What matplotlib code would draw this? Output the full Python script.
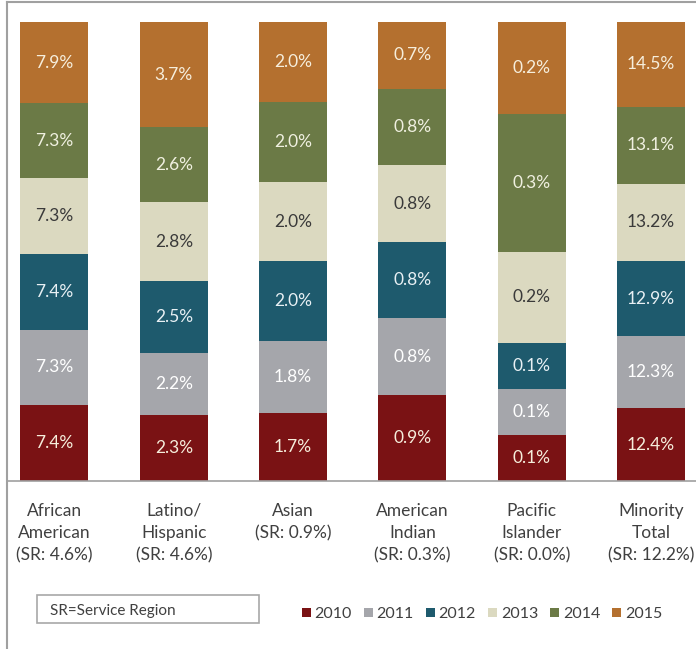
import matplotlib.pyplot as plt
from matplotlib.lines import Line2D
from matplotlib.patches import Rectangle
import numpy as np

plt.rcParams['font.family'] = ['Lato', 'DejaVu Sans']

categories = ["African\nAmerican\n(SR: 4.6%)", "Latino/\nHispanic\n(SR: 4.6%)",
              "Asian\n(SR: 0.9%)", "American\nIndian\n(SR: 0.3%)",
              "Pacific\nIslander\n(SR: 0.0%)", "Minority\nTotal\n(SR: 12.2%)"]
years = ["2010", "2011", "2012", "2013", "2014", "2015"]
v2010 = [7.4, 2.3, 1.7, 0.9, 0.1, 12.4]
v2011 = [7.3, 2.2, 1.8, 0.8, 0.1, 12.3]
v2012 = [7.4, 2.5, 2.0, 0.8, 0.1, 12.9]
v2013 = [7.3, 2.8, 2.0, 0.8, 0.2, 13.2]
v2014 = [7.3, 2.6, 2.0, 0.8, 0.3, 13.1]
v2015 = [7.9, 3.7, 2.0, 0.7, 0.2, 14.5]
series = [v2010, v2011, v2012, v2013, v2014, v2015]

colors = ["#7a1214", "#a5a6ab", "#1e5a6d", "#dbd9c0", "#6b7a46", "#b4702f"]
text_colors = ["#f6eedc", "#ffffff", "#e8f0f4", "#3a3a3a", "#f0f0e0", "#f6eedc"]

data = np.array(series)
shares = data / data.sum(axis=0)

fig = plt.figure(figsize=(6.96, 6.49), dpi=100)
ax = fig.add_axes([7 / 696, 1 - 481 / 649, 1 - 7 / 696, (481 - 22) / 649])

x = np.arange(len(categories))
bottom = np.zeros(len(categories))
for i, yr in enumerate(years):
    bars = ax.bar(x, shares[i], 0.57, bottom=bottom, color=colors[i], label=yr)
    ax.bar_label(bars, labels=[f"{v:.1f}%" for v in series[i]], label_type='center',
                 color=text_colors[i], fontsize=12.5)
    bottom += shares[i]

ax.set_xlim(-0.398, 5.377)
ax.set_ylim(0, 1)
ax.set_yticks([])
ax.set_xticks(x)
ax.set_xticklabels(categories, fontsize=12.5, color="#404040", linespacing=1.5)
ax.tick_params(axis='x', length=0, pad=15.5)
for s in ['top', 'left', 'right']:
    ax.spines[s].set_visible(False)
ax.spines['bottom'].set_color("#a0a0a0")
ax.spines['bottom'].set_linewidth(1.2)

# outer frame lines
fig.add_artist(Line2D([7 / 696, 7 / 696], [0, 1 - 2 / 649], color="#a0a0a0", lw=1.5,
                      transform=fig.transFigure))
fig.add_artist(Line2D([7 / 696, 1], [1 - 2 / 649, 1 - 2 / 649], color="#a0a0a0", lw=1.5,
                      transform=fig.transFigure))

# SR note box
fig.add_artist(Rectangle((37 / 696, 1 - 623 / 649), 222 / 696, 28 / 649, transform=fig.transFigure,
                         facecolor="white", edgecolor="#a8a8a8", lw=1.2))
fig.text(50 / 696, 1 - 611 / 649, "SR=Service Region", fontsize=11, color="#404040",
         va='center', ha='left')

fig.legend(loc='center', bbox_to_anchor=(482 / 696, 1 - 614 / 649), ncol=6, frameon=False,
           fontsize=11.5, handlelength=0.55, handleheight=0.55, handletextpad=0.25,
           columnspacing=0.75, labelcolor="#404040")

fig.savefig("out.png", dpi=100)
